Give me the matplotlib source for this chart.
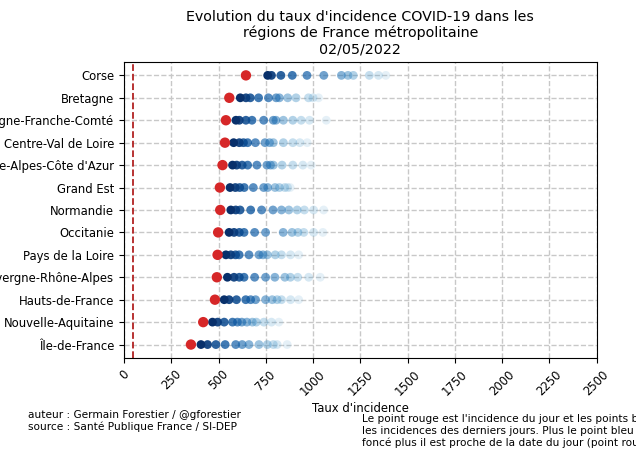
import numpy as np
import matplotlib
matplotlib.use("Agg")
import matplotlib.pyplot as plt

# regions, top to bottom as in the chart
regions = ["Corse", "Bretagne", "Bourgogne-Franche-Comté", "Centre-Val de Loire",
           "Provence-Alpes-Côte d'Azur", "Grand Est", "Normandie", "Occitanie",
           "Pays de la Loire", "Auvergne-Rhône-Alpes", "Hauts-de-France",
           "Nouvelle-Aquitaine", "Île-de-France"]

# incidence of the day (red point)
today = [645, 557, 539, 534, 521, 507, 509, 498, 495, 491, 481, 419, 354]

# incidence of the previous days, most recent first (blue points)
past = [
    [760, 780, 830, 890, 968, 1057, 1150, 1185, 1213, 1298, 1346, 1385],
    [615, 645, 668, 712, 764, 805, 822, 866, 910, 976, 1000, 1029],
    [592, 610, 645, 677, 739, 790, 804, 843, 893, 937, 981, 1070],
    [580, 610, 632, 654, 695, 746, 770, 790, 843, 893, 930, 969],
    [574, 596, 625, 654, 703, 756, 775, 790, 836, 893, 946, 990],
    [561, 589, 612, 636, 684, 739, 760, 799, 822, 850, 865, 879],
    [565, 591, 614, 670, 728, 788, 833, 872, 916, 954, 1003, 1056],
    [556, 582, 610, 635, 691, 749, 842, 889, 920, 951, 1003, 1052],
    [539, 565, 590, 609, 661, 714, 735, 758, 800, 833, 881, 924],
    [547, 582, 610, 635, 691, 749, 798, 851, 880, 919, 977, 1038],
    [530, 556, 595, 644, 670, 696, 749, 784, 810, 833, 881, 924],
    [468, 495, 530, 574, 600, 623, 650, 679, 700, 740, 780, 819],
    [407, 442, 486, 535, 591, 625, 661, 714, 758, 790, 810, 863],
]

threshold = 50
date = "02/05/2022"

fig = plt.figure(figsize=(6.36, 4.5), dpi=100)
ax = fig.add_axes([0.195, 0.2044, 0.743, 0.658])

ypos = np.arange(len(regions))[::-1]
past = np.array(past)
ndays = past.shape[1]

# oldest first so the recent ones are drawn on top
for i in range(ndays - 1, -1, -1):
    frac = i / ndays
    col = plt.cm.Blues(1.0 - frac * 0.55)
    ax.scatter(past[:, i], ypos, s=40, color=col, alpha=1.0 - frac * 0.9,
               edgecolors='none', zorder=3)

ax.scatter(today, ypos, s=56, color='#d62728', edgecolors='none', zorder=4)

ax.axvline(threshold, color='#b22222', linestyle='--', linewidth=1.3, zorder=2)

ax.set_xlim(0, 2500)
ax.set_ylim(-0.6, len(regions) - 0.4)
ax.set_xticks(np.arange(0, 2501, 250))
ax.set_yticks(ypos)
ax.set_yticklabels(regions)
ax.tick_params(axis='both', labelsize=8.4)
plt.setp(ax.get_xticklabels(), rotation=45)
ax.set_axisbelow(True)
ax.grid(True, linestyle='--', color='#c8c8c8', linewidth=1)

ax.set_title("Evolution du taux d'incidence COVID-19 dans les\n"
             "régions de France métropolitaine\n" + date, fontsize=10.3)
ax.set_xlabel("Taux d'incidence", fontsize=8.4)
ax.xaxis.set_label_coords(0.5, -0.148)

fig.text(28 / 636, 1 - 410 / 450,
         "auteur : Germain Forestier / @gforestier\n"
         "source : Santé Publique France / SI-DEP",
         fontsize=7.6, va='top', ha='left')
fig.text(362 / 636, 1 - 414 / 450,
         "Le point rouge est l'incidence du jour et les points bleus\n"
         "les incidences des derniers jours. Plus le point bleu est\n"
         "foncé plus il est proche de la date du jour (point rouge).",
         fontsize=7.6, va='top', ha='left')

fig.savefig("out.png", dpi=100)
